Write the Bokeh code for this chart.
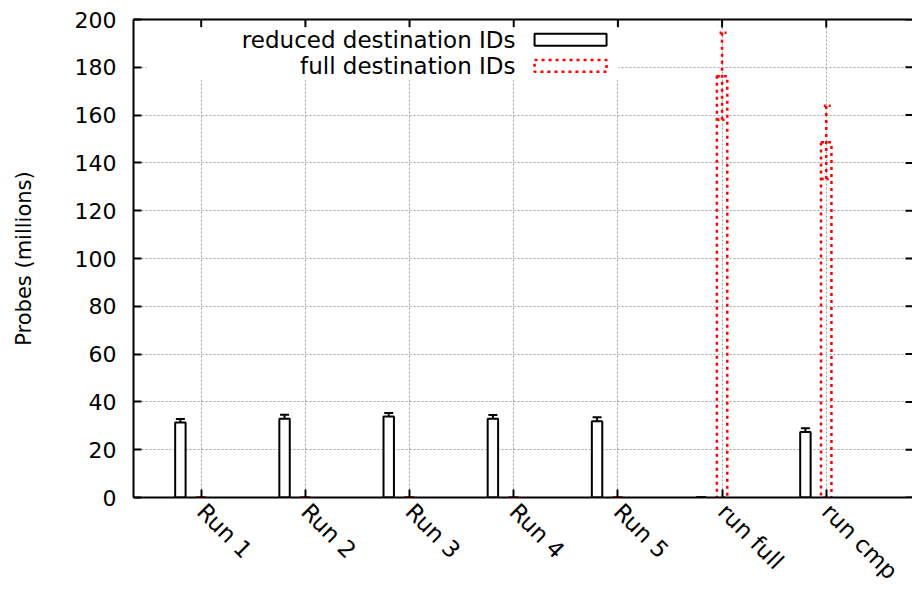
import math
from bokeh.plotting import figure
from bokeh.models import (Range1d, FixedTicker, LinearAxis, Whisker, TeeHead,
                          ColumnDataSource, BoxAnnotation, Label)
from bokeh.embed import file_html
from bokeh.resources import INLINE

# ---- data ----
runs = ["Run 1", "Run 2", "Run 3", "Run 4", "Run 5", "run full", "run cmp"]
reduced = [31.4, 33.0, 33.9, 33.0, 31.9, 0.0, 27.4]
reduced_err = [1.45, 1.6, 1.5, 1.5, 1.65, 0.0, 1.6]
full = [0.0, 0.0, 0.0, 0.0, 0.0, 176.3, 148.6]
full_err = [0.0, 0.0, 0.0, 0.0, 0.0, 18.2, 15.3]
y_ticks = [0, 20, 40, 60, 80, 100, 120, 140, 160, 180, 200]
series_names = ["reduced destination IDs", "full destination IDs"]
y_title = "Probes (millions)"

FONT = "DejaVu Sans"
RED = "#ff0000"
GRID = "#a0a0a0"
X_START, X_END = -0.65, 6.828
Y_START, Y_END = y_ticks[0], y_ticks[-1]

idx = list(range(len(runs)))
red_x = [i - 0.2 for i in idx]
full_x = [float(i) for i in idx]

src_red = ColumnDataSource(dict(
    x=red_x, top=reduced,
    upper=[v + e for v, e in zip(reduced, reduced_err)],
    lower=[v - e for v, e in zip(reduced, reduced_err)]))
src_full = ColumnDataSource(dict(
    x=full_x, top=full,
    upper=[v + e for v, e in zip(full, full_err)],
    lower=[v - e for v, e in zip(full, full_err)]))

p = figure(width=912, height=596, output_backend="svg", toolbar_location=None,
           x_range=Range1d(X_START, X_END), y_range=Range1d(Y_START, Y_END),
           min_border_left=133, min_border_top=19, min_border_bottom=98,
           min_border_right=0)
p.outline_line_color = None
p.background_fill_color = "white"

xticker = FixedTicker(ticks=idx)
yticker = FixedTicker(ticks=y_ticks)

# grid
p.xgrid.ticker = xticker
p.ygrid.ticker = yticker
for g in (p.xgrid, p.ygrid):
    g.grid_line_color = GRID
    g.grid_line_dash = "2 2"
    g.grid_line_width = 1

# left axis
ya = p.yaxis[0]
ya.ticker = yticker
ya.axis_label = y_title
ya.axis_label_text_font = FONT
ya.axis_label_text_font_size = "21px"
ya.axis_label_text_font_style = "normal"
ya.axis_label_text_color = "black"
ya.axis_label_standoff = 36
ya.major_label_text_font = FONT
ya.major_label_text_font_size = "22px"
ya.major_label_text_color = "black"
ya.major_label_standoff = 17
ya.axis_line_width = 2
ya.major_tick_line_width = 2
ya.major_tick_in = 8
ya.major_tick_out = 0
ya.minor_tick_line_color = None

# bottom axis
xa = p.xaxis[0]
xa.ticker = xticker
xa.major_label_overrides = {i: runs[i] for i in idx}
xa.major_label_orientation = -math.pi / 4
xa.major_label_text_font = FONT
xa.major_label_text_font_size = "23px"
xa.major_label_text_line_height = 1.0
xa.major_label_text_color = "black"
xa.major_label_standoff = 10
xa.axis_line_width = 2
xa.major_tick_line_width = 2
xa.major_tick_in = 8
xa.major_tick_out = 0
xa.minor_tick_line_color = None

# top border (axis line only)
ta = LinearAxis(ticker=FixedTicker(ticks=[]), axis_line_width=2,
                major_tick_line_color=None, minor_tick_line_color=None,
                major_tick_out=0, major_tick_in=0, major_label_standoff=0)
p.add_layout(ta, "above")

# mirrored inward ticks on top and right edges (half of each dash is clipped)
p.scatter(x=idx, y=[Y_END] * len(idx), marker="dash", size=16,
          angle=math.pi / 2, line_color="black", line_width=2)
p.scatter(x=[X_END] * len(y_ticks), y=y_ticks, marker="dash", size=14,
          line_color="black", line_width=2)

# bars
p.vbar(x="x", top="top", bottom=0, width=0.1, source=src_red,
       fill_color="white", line_color="black", line_width=2)
p.vbar(x="x", top="top", bottom=0, width=0.1, source=src_full,
       fill_color=None, line_color=RED, line_width=2.5, line_dash="3 4")

# error bars
p.add_layout(Whisker(base="x", upper="upper", lower="lower", source=src_red,
                     line_color="black", line_width=2,
                     upper_head=TeeHead(size=9, line_color="black", line_width=2),
                     lower_head=TeeHead(size=9, line_color="black", line_width=2)))
p.add_layout(Whisker(base="x", upper="upper", lower="lower", source=src_full,
                     line_color=RED, line_width=2.5, line_dash="3 4",
                     upper_head=TeeHead(size=9, line_color=RED, line_width=2.5, line_dash="2 3"),
                     lower_head=TeeHead(size=9, line_color=RED, line_width=2.5, line_dash="2 3")))

# key (legend) box, text on the left, sample on the right, opaque
p.add_layout(BoxAnnotation(left=-0.525, right=4.006, bottom=174.7, top=196.8,
                           fill_color="white", fill_alpha=1.0, line_color=None))
p.add_layout(Label(x=3.017, y=191.4, text=series_names[0], text_align="right",
                   text_baseline="middle", text_font=FONT, text_font_size="23px",
                   text_color="black"))
p.add_layout(Label(x=3.017, y=180.5, text=series_names[1], text_align="right",
                   text_baseline="middle", text_font=FONT, text_font_size="23px",
                   text_color="black"))
p.add_layout(BoxAnnotation(left=3.2, right=3.891, bottom=189.0, top=194.0,
                           fill_color="white", fill_alpha=1.0,
                           line_color="black", line_alpha=1.0, line_width=2))
p.add_layout(BoxAnnotation(left=3.2, right=3.891, bottom=178.1, top=183.1,
                           fill_color="white", fill_alpha=1.0,
                           line_color=RED, line_alpha=1.0, line_width=2.5,
                           line_dash="3 4"))

open("out.html", "w").write(file_html(p, INLINE))
